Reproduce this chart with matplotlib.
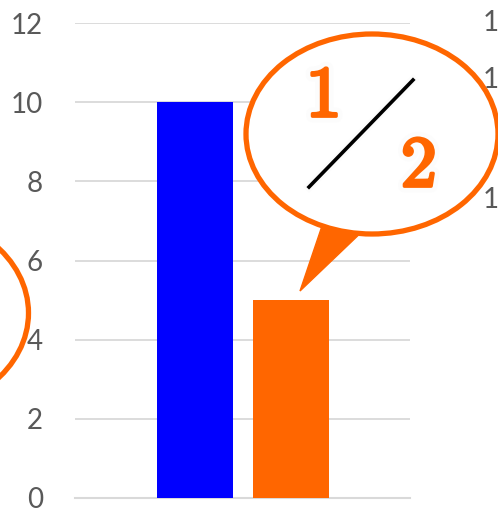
import matplotlib.pyplot as plt
from matplotlib.patches import Ellipse, Polygon
from matplotlib.lines import Line2D
import matplotlib.patheffects as pe

W, H = 498, 508

categories = ['A', 'B']
values = [10, 5]
bar_colors = ['#0000FF', '#FF6600']
y_ticks = [0, 2, 4, 6, 8, 10, 12]
side_ticks = ['1', '1', '1']
side_tick_y = [23, 80, 200]
frac_top, frac_bottom = '1', '2'

ORANGE = '#FF6600'
GRAY = '#595959'

plt.rcParams['mathtext.fontset'] = 'cm'


def px(x, y):
    # pixel (from top-left) -> figure fraction
    return x / W, 1 - y / H


fig = plt.figure(figsize=(W / 100, H / 100), dpi=100)
ax = fig.add_axes([75 / W, 1 - 498 / H, 335 / W, 475 / H])

ax.bar(range(len(values)), values, width=0.79, color=bar_colors, zorder=3)
ax.set_xlim(-1.25, 2.24)
ax.set_ylim(0, 12)
ax.set_yticks(y_ticks)
ax.set_xticks([])
ax.grid(axis='y', color='#D9D9D9', linewidth=1.3, zorder=0)
for s in ['top', 'right', 'left']:
    ax.spines[s].set_visible(False)
ax.spines['bottom'].set_color('#D9D9D9')
ax.spines['bottom'].set_linewidth(1.5)
ax.tick_params(axis='y', length=0, pad=23, labelsize=20, labelcolor=GRAY)
for lab in ax.get_yticklabels():
    lab.set_fontfamily('Lato')

# tick labels of the neighbouring chart on the right
for t, y in zip(side_ticks, side_tick_y):
    fx, fy = px(483, y)
    fig.text(fx, fy, t, fontsize=20, color=GRAY, family='Lato',
             ha='left', va='center')

# bubble of the neighbouring chart on the left
cx, cy = px(-98, 313)
fig.add_artist(Ellipse((cx, cy), 253 / W, 201 / H, transform=fig.transFigure,
                       facecolor='none', edgecolor=ORANGE, linewidth=3.8))

# speech bubble with the fraction
tail = [px(322, 226), px(368, 226), px(300, 291)]
fig.add_artist(Polygon(tail, closed=True, transform=fig.transFigure,
                       facecolor=ORANGE, edgecolor=ORANGE, linewidth=1))
bx, by = px(372, 134)
fig.add_artist(Ellipse((bx, by), 252 / W, 200 / H, transform=fig.transFigure,
                       facecolor='white', edgecolor=ORANGE, linewidth=3.8))

halo = [pe.withStroke(linewidth=6, foreground='#FCFCFC')]
# cm digits are thin, thicken them with a stroke of the same colour
bold = [pe.withStroke(linewidth=9, foreground='#FCFCFC'),
        pe.withStroke(linewidth=2.4, foreground=ORANGE), pe.Normal()]
x0, y0 = px(309, 187)
x1, y1 = px(413, 80)
fig.add_artist(Line2D([x0, x1], [y0, y1], transform=fig.transFigure,
                      color='black', linewidth=2.6, path_effects=halo))
fx, fy = px(322, 97)
fig.text(fx, fy, r'$%s$' % frac_top, fontsize=52, color=ORANGE,
         ha='center', va='center', path_effects=bold)
fx, fy = px(418, 167)
fig.text(fx, fy, r'$%s$' % frac_bottom, fontsize=52, color=ORANGE,
         ha='center', va='center', path_effects=bold)

fig.savefig('out.png', dpi=100)
